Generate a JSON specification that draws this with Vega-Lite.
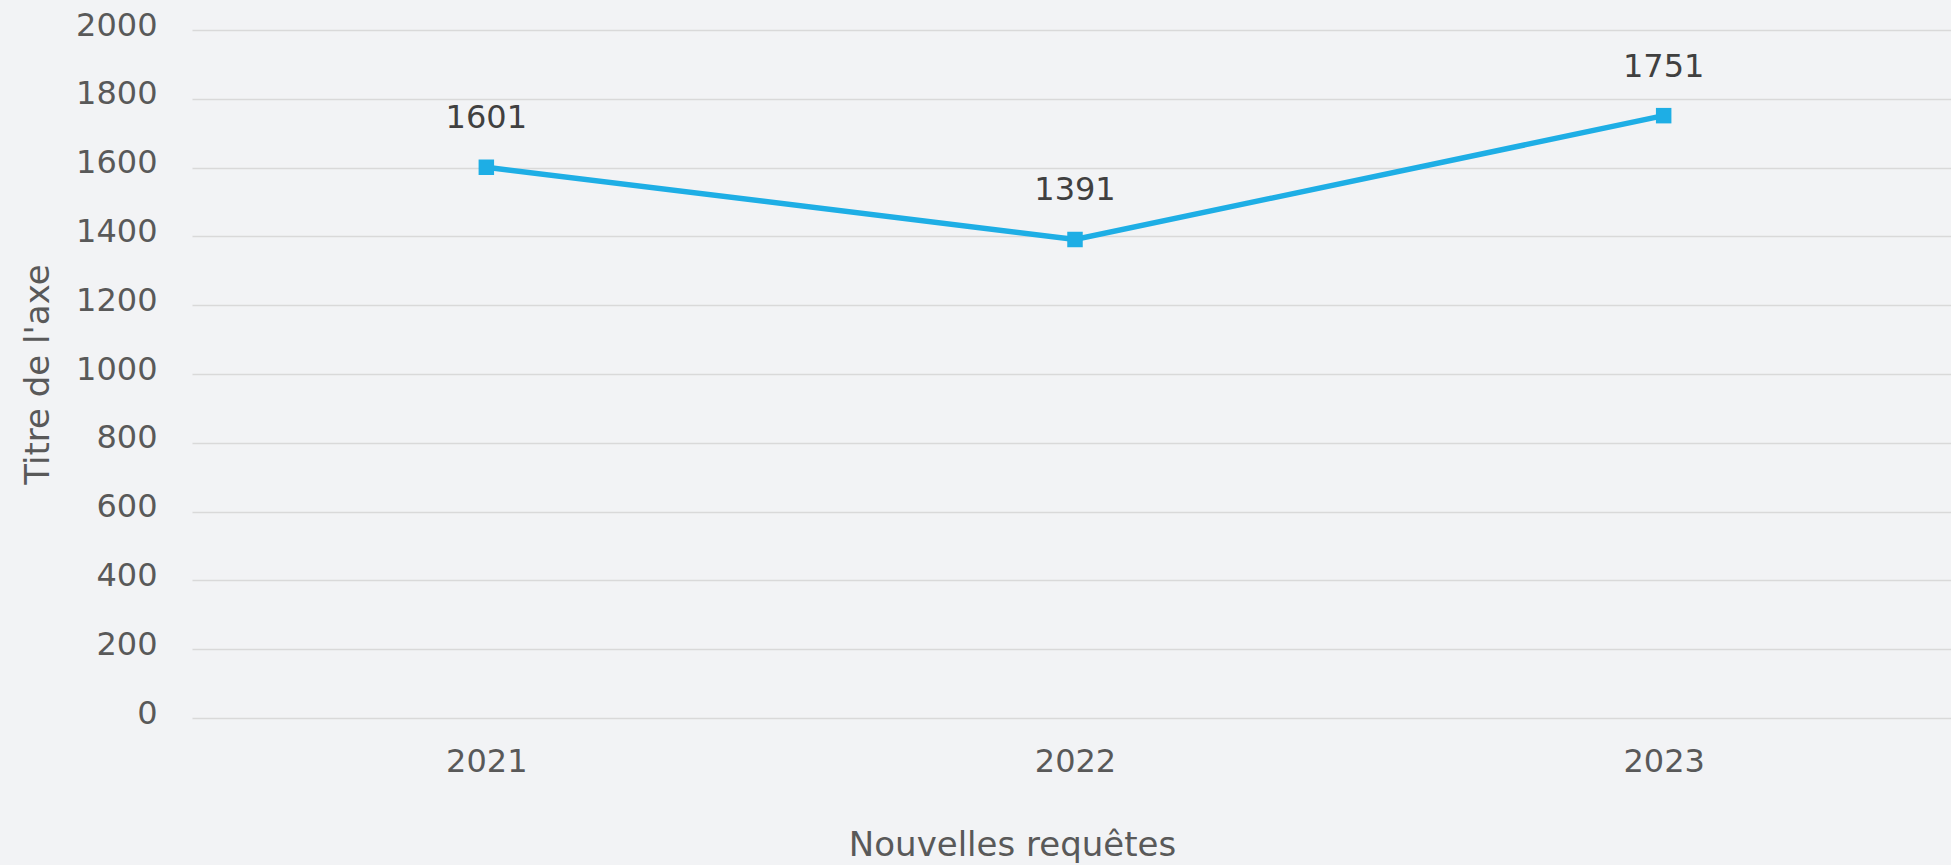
{
  "$schema": "https://vega.github.io/schema/vega-lite/v6.json",
  "autosize": "none",
  "width": 1759,
  "height": 688,
  "padding": {"left": 192, "top": 30, "right": 0, "bottom": 147},
  "background": "#F2F3F5",
  "config": {
    "view": {"stroke": null},
    "font": "DejaVu Sans"
  },
  "data": {
    "values": [
      {"annee": "2021", "valeur": 1601},
      {"annee": "2022", "valeur": 1391},
      {"annee": "2023", "valeur": 1751}
    ]
  },
  "encoding": {
    "x": {
      "field": "annee",
      "type": "nominal",
      "sort": null,
      "scale": {"paddingInner": 0, "paddingOuter": 0, "range": [0, 1766]},
      "axis": {
        "title": "Nouvelles requêtes",
        "titleFont": "DejaVu Sans",
        "titleFontSize": 34,
        "titleFontWeight": "normal",
        "titleColor": "#595959",
        "titleX": 820,
        "titleY": 137,
        "titleBaseline": "alphabetic",
        "titleAnchor": null,
        "titleAlign": "center",
        "labelAngle": 0,
        "labelFont": "DejaVu Sans",
        "labelFontSize": 32,
        "labelColor": "#595959",
        "labelPadding": 28,
        "ticks": false,
        "domain": false,
        "grid": false
      }
    },
    "y": {
      "field": "valeur",
      "type": "quantitative",
      "scale": {"domain": [0, 2000], "nice": false},
      "axis": {
        "title": "Titre de l'axe",
        "titleFont": "DejaVu Sans",
        "titleFontSize": 34,
        "titleFontWeight": "normal",
        "titleColor": "#595959",
        "titleX": -144,
        "titleY": 344,
        "titleAngle": -90,
        "titleBaseline": "alphabetic",
        "titleAlign": "center",
        "values": [0, 200, 400, 600, 800, 1000, 1200, 1400, 1600, 1800, 2000],
        "format": "d",
        "labelFont": "DejaVu Sans",
        "labelFontSize": 32,
        "labelColor": "#595959",
        "labelPadding": 35,
        "labelOffset": -5,
        "ticks": false,
        "domain": false,
        "grid": true,
        "gridColor": "#D9D9D9",
        "gridWidth": 1.5
      }
    }
  },
  "layer": [
    {
      "mark": {"type": "line", "color": "#1EAEE5", "strokeWidth": 5.5}
    },
    {
      "mark": {"type": "square", "color": "#1EAEE5", "size": 240, "opacity": 1, "filled": true}
    },
    {
      "mark": {"type": "text", "dy": -49, "baseline": "middle", "font": "DejaVu Sans", "fontSize": 32, "color": "#404040"},
      "encoding": {"text": {"field": "valeur", "type": "quantitative", "format": "d"}}
    }
  ]
}
